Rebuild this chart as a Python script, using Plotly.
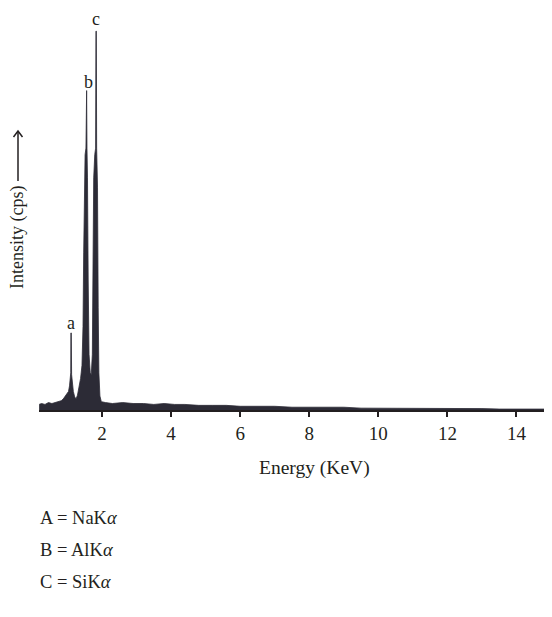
import plotly.graph_objects as go

# Spectrum (energy in keV, intensity in arbitrary cps units)
energy = [0.18, 0.25, 0.35, 0.45, 0.55, 0.65, 0.75, 0.82, 0.88, 0.94, 0.99, 1.03, 1.06, 1.08,
          1.095, 1.10, 1.11, 1.12, 1.14, 1.17, 1.21, 1.25, 1.29, 1.33, 1.38, 1.42, 1.45,
          1.47, 1.49, 1.51, 1.535, 1.545, 1.555, 1.565, 1.58, 1.60, 1.625, 1.66, 1.69,
          1.72, 1.74, 1.76, 1.79, 1.815, 1.825, 1.835, 1.845, 1.87, 1.89, 1.91, 1.94, 1.98,
          2.1, 2.3, 2.6, 2.9, 3.2, 3.5, 3.8, 4.1, 4.4, 4.8, 5.2, 5.6, 6.0, 6.5, 7.0, 7.5,
          8.0, 8.5, 9.0, 9.5, 10.0, 10.5, 11.0, 11.5, 12.0, 12.5, 13.0, 13.5, 14.0, 14.5, 15.0]
intensity = [6, 7, 6, 8, 7, 8, 9, 10, 12, 15, 18, 20, 26, 34,
             40, 83, 83, 38, 30, 20, 14, 12, 16, 24, 34, 48, 90,
             170, 240, 275, 282, 344, 344, 282, 250, 140, 60, 40, 38,
             60, 150, 250, 275, 282, 408, 408, 282, 240, 110, 40, 15, 9,
             8, 7, 8, 7, 7, 6, 7, 6, 6, 5, 5, 5, 4, 4, 4, 3,
             3, 3, 3, 2, 2, 2, 2, 2, 1.5, 1.5, 1.5, 1, 1, 1, 1]

tick_vals = [2, 4, 6, 8, 10, 12, 14]
tick_text = ["2", "4", "6", "8", "10", "12", "14"]

peak_labels = ["a", "b", "c"]
peak_label_px = [(63, 315), (80, 74), (88, 0)]
peak_label_anchor = ["middle", "middle", "top"]

legend_lines = ["A = NaK<i>α</i>", "B = AlK<i>α</i>", "C = SiK<i>α</i>"]

SERIF = "Liberation Serif, Times New Roman, serif"
INK = "#231f20"

W, H = 552, 617
L, R, T, B = 31, 0, 12, 215
pw, ph = W - L - R, H - T - B

def px(xp):
    return (xp - L) / pw

def py(yp):
    return (H - B - yp) / ph

fig = go.Figure()
fig.add_trace(go.Scatter(
    x=energy, y=intensity, mode="lines", fill="tozeroy",
    line=dict(color="#2c2b36", width=0.8), fillcolor="#2c2b36",
    hoverinfo="x+y", showlegend=False))

for t, (x, y), ya in zip(peak_labels, peak_label_px, peak_label_anchor):
    fig.add_annotation(x=px(x), y=py(y), text=t, showarrow=False, xref="paper", yref="paper",
                       font=dict(family=SERIF, size=18, color=INK), borderpad=0,
                       xanchor="center", yanchor=ya)

# y-axis title with arrow
fig.add_annotation(x=px(9), y=py(230), xref="paper", yref="paper", text="Intensity (cps)",
                   textangle=-90, showarrow=False, xanchor="center", yanchor="middle",
                   font=dict(family=SERIF, size=18, color=INK))
fig.add_shape(type="line", xref="paper", yref="paper", x0=px(10), x1=px(10), y0=py(173), y1=py(123),
              line=dict(color=INK, width=1.5))
fig.add_shape(type="path", xref="paper", yref="paper",
              path=f"M {px(5.5)},{py(129)} L {px(10)},{py(123)} L {px(14.5)},{py(129)}",
              line=dict(color=INK, width=1.5))

# x-axis title
fig.add_annotation(x=px(306), y=py(460), xref="paper", yref="paper", text="Energy (KeV)",
                   showarrow=False, xanchor="center", yanchor="middle",
                   font=dict(family=SERIF, size=19.5, color=INK))

# element legend lines
for i, txt in enumerate(legend_lines):
    fig.add_annotation(x=px(30), y=py(510 + 32 * i), xref="paper", yref="paper", text=txt,
                       showarrow=False, xanchor="left", yanchor="middle",
                       font=dict(family=SERIF, size=18.5, color=INK))

fig.update_layout(
    width=W, height=H, margin=dict(l=L, r=R, t=T, b=B),
    paper_bgcolor="white", plot_bgcolor="white",
    xaxis=dict(range=[0.176, 15.26], tickvals=tick_vals, ticktext=tick_text,
               showline=True, linecolor=INK, linewidth=2, ticks="outside",
               ticklen=5, tickwidth=2, tickcolor=INK, showgrid=False, zeroline=False,
               tickfont=dict(family=SERIF, size=19, color=INK)),
    yaxis=dict(range=[0, 420], visible=False, showgrid=False, zeroline=False),
)

fig.write_html("out.html")
